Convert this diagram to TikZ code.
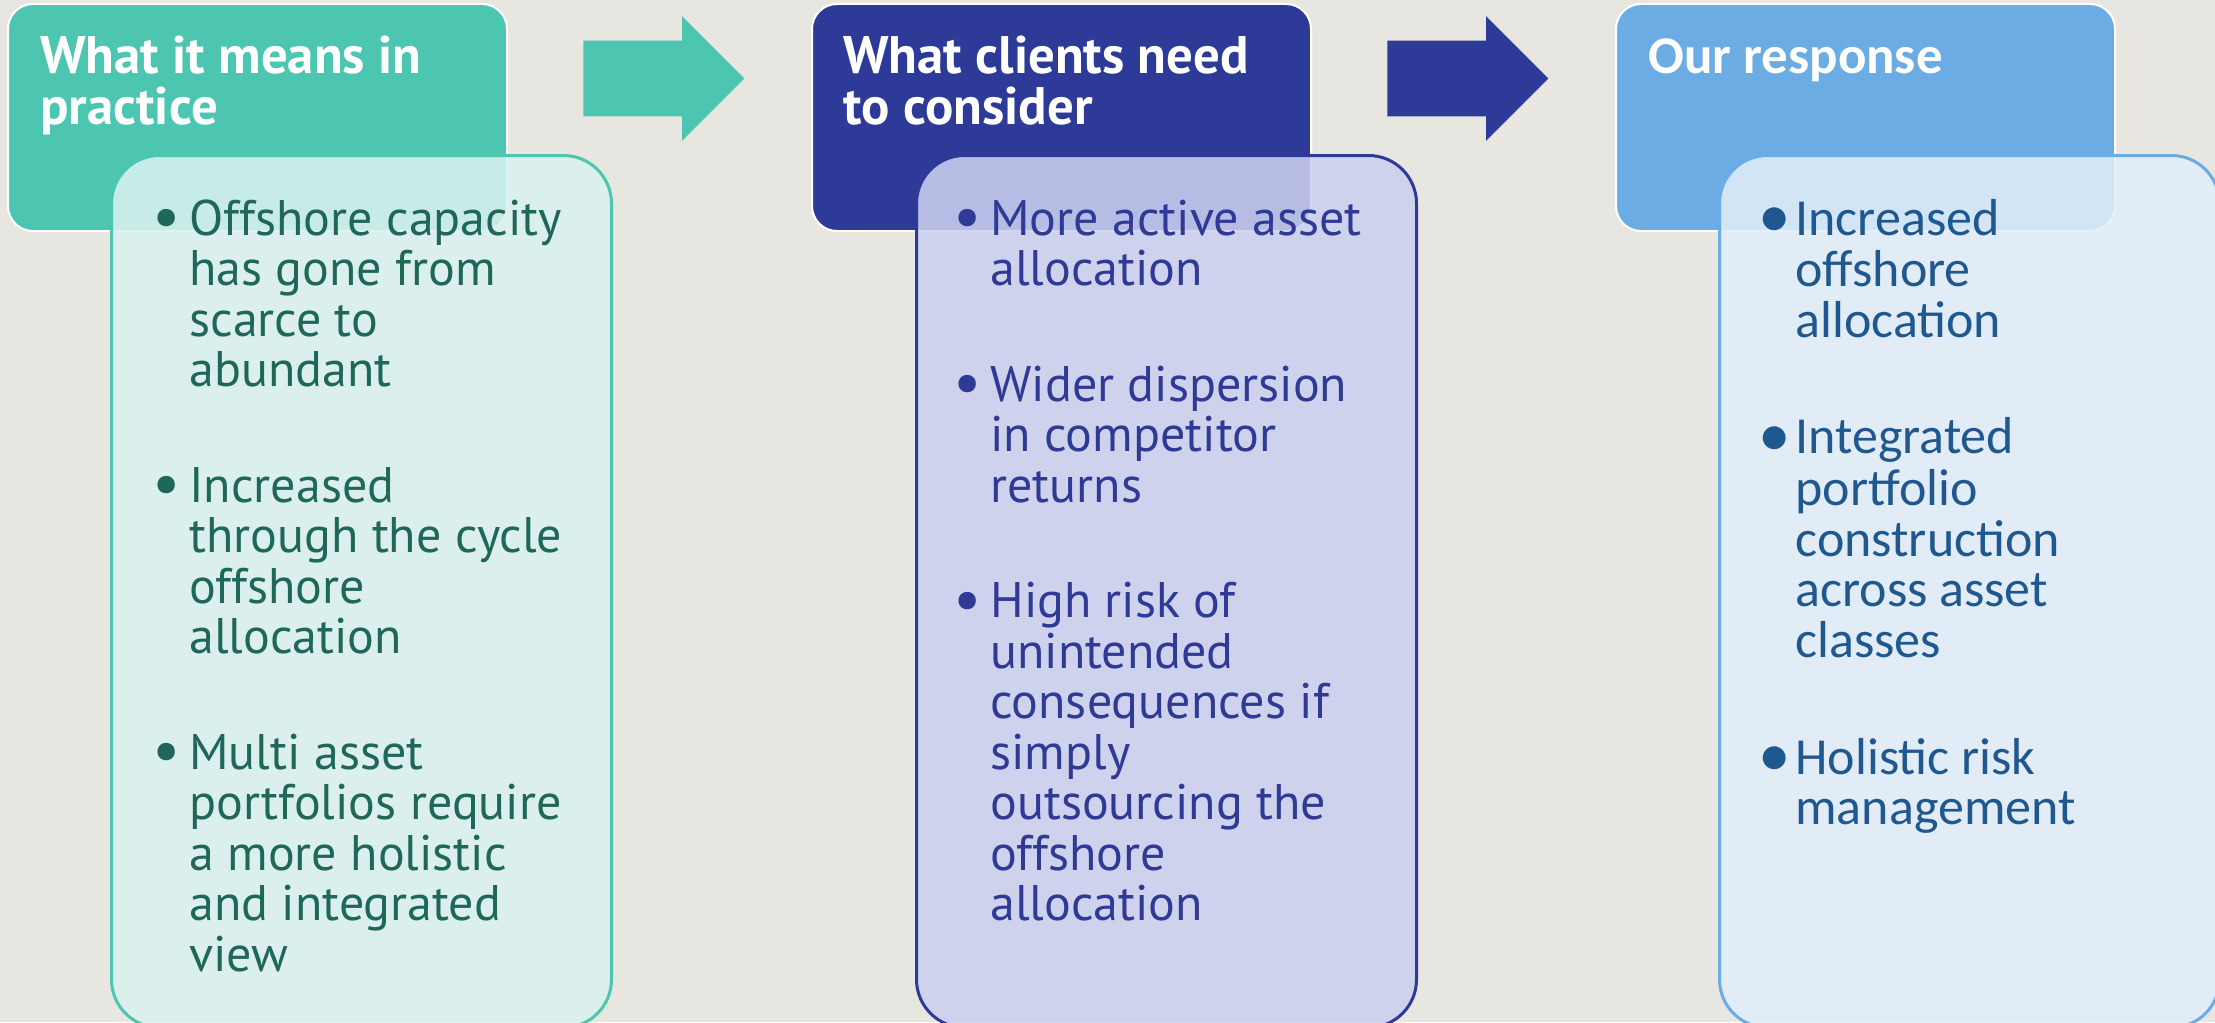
\documentclass[tikz,border=0pt]{standalone}
\usepackage{fontspec}
\setmainfont{PT Sans}
\newfontfamily\calfont{Carlito}
\usetikzlibrary{positioning,shapes.arrows}
\definecolor{paper}{RGB}{232,230,224}
\definecolor{tealhead}{RGB}{76,197,177}
\definecolor{tealbody}{RGB}{218,241,238}
\definecolor{tealtext}{RGB}{31,103,91}
\definecolor{navyhead}{RGB}{46,58,151}
\definecolor{navybody}{RGB}{204,208,240}
\definecolor{navytext}{RGB}{46,58,150}
\definecolor{skyhead}{RGB}{106,172,227}
\definecolor{skybody}{RGB}{226,238,251}
\definecolor{skytext}{RGB}{31,88,143}

% bullet list: bullet column + text column, extra gap between points
\newcommand{\pts}[1]{\begin{tabular}[t]{@{}p{15pt}@{}l@{}}#1\end{tabular}}
\newcommand{\pgap}{\\[32.5pt]}
\newcommand{\blt}{\hspace*{-3.5pt}\raisebox{-0.1ex}{\scalebox{1.25}{\textbullet}}}

\begin{document}
\begin{tikzpicture}[x=0.5pt, y=-0.5pt,
    hdr/.style={draw=white, line width=1pt, rounded corners=12.5pt, anchor=north west,
                minimum width=249.5pt, minimum height=113.5pt, inner sep=0pt},
    body/.style={line width=1.5pt, rounded corners=24pt, anchor=north west,
                 minimum width=250pt, minimum height=436pt, inner sep=0pt, fill opacity=0.87},
    htxt/.style={anchor=base west, align=left, inner sep=0pt, text=white,
                 font=\bfseries\fontsize{26.4}{25.5}\selectfont},
    btxt/.style={anchor=base west, inner sep=0pt, font=\fontsize{25}{25.25}\selectfont},
    blockarr/.style={single arrow, anchor=tail, minimum height=80.5pt, inner xsep=0pt,
                     inner ysep=18.75pt, single arrow head extend=12.25pt}]
  \useasboundingbox[fill=paper] (0,0) rectangle (2215,1022);

  % header boxes
  \node[hdr, fill=tealhead] (hdr1) at (7,3) {};
  \node[hdr, fill=navyhead] (hdr2) at (811,3) {};
  \node[hdr, fill=skyhead]  (hdr3) at (1615,3) {};
  % two-line titles sit on their last baseline
  \node[htxt] (ht1) at (40,125) {What it means in\\practice};
  \node[htxt] (ht2) at (843,125) {What clients need\\to consider};
  \node[htxt, font=\calfont\bfseries\fontsize{26.5}{25}\selectfont] (ht3) at (1648,74) {Our response};

  % block arrows between the steps
  \node[blockarr, fill=tealhead] (ar1) at (583,78.5) {};
  \node[blockarr, fill=navyhead] (ar2) at (1387,78.5) {};

  % bodies, laid over the headers
  \node[body, draw=tealhead, fill=tealbody] (box1) at (110,154) {};
  \node[body, draw=navyhead, fill=navybody] (box2) at (915,154) {};
  \node[body, draw=skyhead,  fill=skybody]  (box3) at (1718,154) {};

  \node[btxt, text=tealtext] (pt1) at (159,235) {\pts{%
    \blt & Offshore capacity\\ & has gone from\\ & scarce to\\ & abundant\pgap
    \blt & Increased\\ & through the cycle\\ & offshore\\ & allocation\pgap
    \blt & Multi asset\\ & portfolios require\\ & a more holistic\\ & and integrated\\ & view}};
  \node[btxt, text=navytext] (pt2) at (960,235) {\pts{%
    \blt & More active asset\\ & allocation\pgap
    \blt & Wider dispersion\\ & in competitor\\ & returns\pgap
    \blt & High risk of\\ & unintended\\ & consequences if\\ & simply\\
         & outsourcing the\\ & offshore\\ & allocation}};
  \node[btxt, text=skytext, font=\calfont\fontsize{26}{25.25}\selectfont] (pt3) at (1765,235) {\pts{%
    \blt & Increased\\ & offshore\\ & allocation\pgap
    \blt & Integrated\\ & portfolio\\ & construction\\ & across asset\\ & classes\pgap
    \blt & Holistic risk\\ & management}};
\end{tikzpicture}
\end{document}
